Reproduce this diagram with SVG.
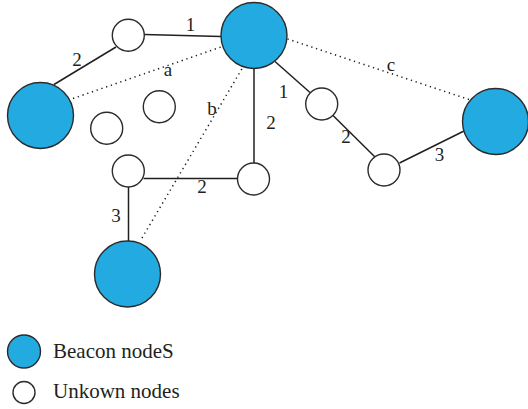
<svg xmlns="http://www.w3.org/2000/svg" width="528" height="409" viewBox="0 0 528 409">
<style>
.beacon{fill:#22aae1;stroke:#2b2b2b;stroke-width:1.4}
.unknown{fill:#ffffff;stroke:#2b2b2b;stroke-width:1.4}
.edge{stroke:#231f20;stroke-width:1.5;fill:none}
.dot{stroke:#231f20;stroke-width:1.5;fill:none;stroke-dasharray:1.3 3.7}
.lbl{font-family:"Liberation Serif","Times New Roman",serif;font-size:19px;fill:#231f20;text-anchor:middle}
.leg{font-family:"Liberation Serif","Times New Roman",serif;font-size:21px;fill:#231f20}
</style>
<rect width="528" height="409" fill="#ffffff"/>
<g id="connectors">
<line class="edge" x1="144.3" y1="34.5" x2="221" y2="36.5"/>
<line class="edge" x1="116" y1="47" x2="54" y2="84.5"/>
<line class="edge" x1="254" y1="68.5" x2="254" y2="163"/>
<line class="edge" x1="275" y1="61.5" x2="310" y2="92.5"/>
<line class="edge" x1="333" y1="115.5" x2="375.5" y2="157.5"/>
<line class="edge" x1="399.5" y1="163" x2="464" y2="131"/>
<line class="edge" x1="143.5" y1="178.5" x2="237.5" y2="178.5"/>
<line class="edge" x1="128.5" y1="187" x2="128.5" y2="241"/>
<line class="dot" x1="73" y1="98.5" x2="221" y2="47"/>
<line class="dot" x1="142" y1="238" x2="243" y2="67"/>
<line class="dot" x1="287.5" y1="39" x2="469" y2="99.5"/>
<text class="lbl" x="190.5" y="31">1</text>
<text class="lbl" x="77" y="65.5">2</text>
<text class="lbl" x="168" y="76">a</text>
<text class="lbl" x="212" y="115">b</text>
<text class="lbl" x="391" y="71">c</text>
<text class="lbl" x="283.5" y="97.5">1</text>
<text class="lbl" x="271" y="128.5">2</text>
<text class="lbl" x="346" y="143">2</text>
<text class="lbl" x="439.5" y="161">3</text>
<text class="lbl" x="202" y="193">2</text>
<text class="lbl" x="116" y="222">3</text>
</g>
<g id="beacon-top"><circle class="beacon" cx="254" cy="35.5" r="33"/></g>
<g id="beacon-left"><circle class="beacon" cx="40.5" cy="115.5" r="33"/></g>
<g id="beacon-right"><circle class="beacon" cx="495.5" cy="121.5" r="33"/></g>
<g id="beacon-bottom"><circle class="beacon" cx="127.5" cy="274" r="33"/></g>
<g id="unknown-1"><circle class="unknown" cx="128.3" cy="35.2" r="16"/></g>
<g id="unknown-2"><circle class="unknown" cx="159.3" cy="106.7" r="16"/></g>
<g id="unknown-3"><circle class="unknown" cx="106.7" cy="128.3" r="16"/></g>
<g id="unknown-4"><circle class="unknown" cx="128.3" cy="171" r="16"/></g>
<g id="unknown-5"><circle class="unknown" cx="253.5" cy="179" r="16"/></g>
<g id="unknown-6"><circle class="unknown" cx="321.7" cy="104" r="16"/></g>
<g id="unknown-7"><circle class="unknown" cx="384" cy="170" r="16"/></g>
<g id="legend">
<circle class="beacon" cx="24" cy="351.5" r="16.5"/>
<text class="leg" x="53" y="357.5">Beacon nodeS</text>
<circle class="unknown" cx="24" cy="392.5" r="11"/>
<text class="leg" x="53" y="398">Unkown nodes</text>
</g>
</svg>
